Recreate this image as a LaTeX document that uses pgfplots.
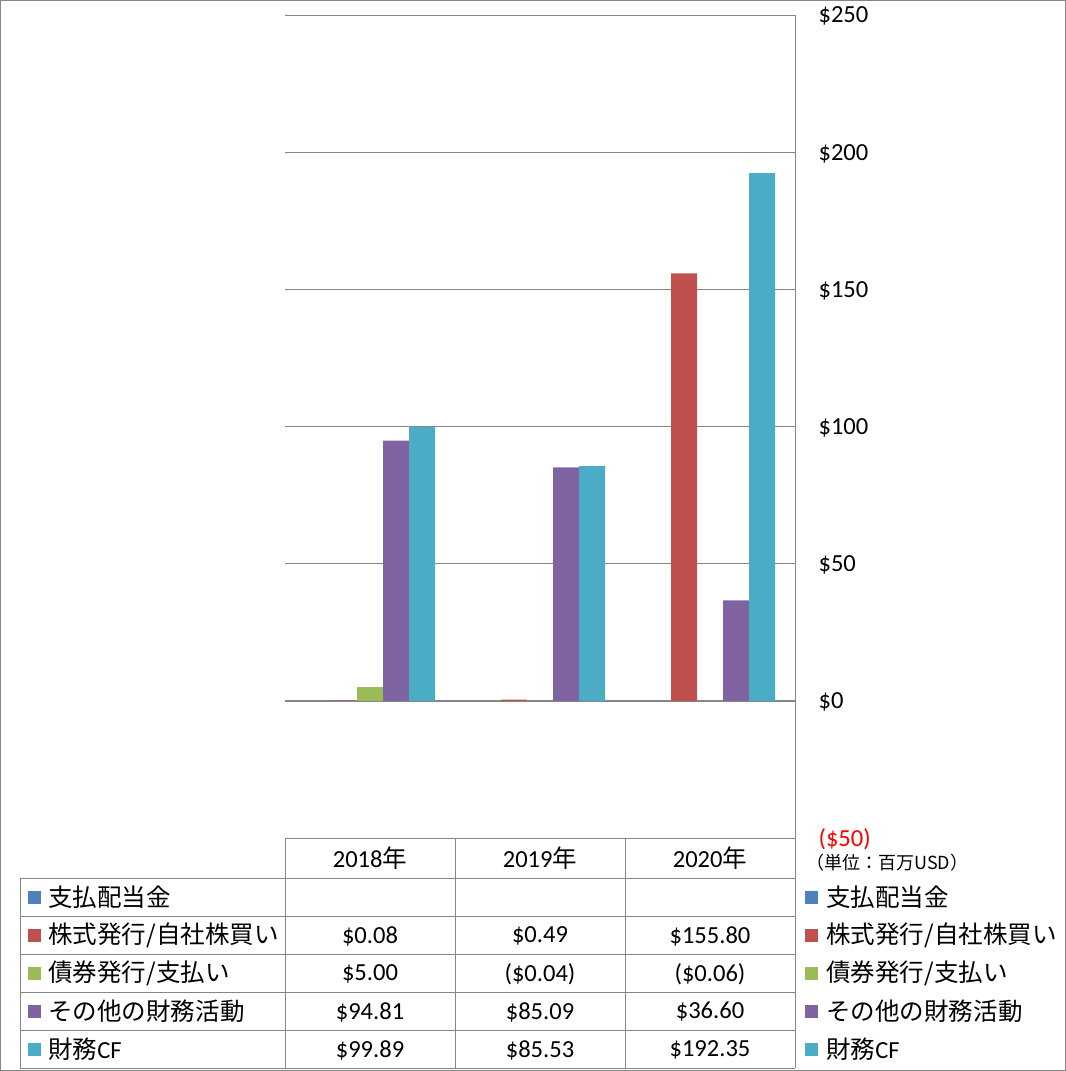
\documentclass[border=0pt]{standalone}
\usepackage{pgfplots}
\pgfplotsset{compat=1.18}
\usepackage{fontspec}
\setmainfont{Carlito}
\newfontfamily\cjk{Noto Sans CJK JP}
\definecolor{cblue}{HTML}{4F81BD}
\definecolor{cred}{HTML}{C0504D}
\definecolor{cgreen}{HTML}{9BBB59}
\definecolor{cpurple}{HTML}{8064A2}
\definecolor{cteal}{HTML}{4BACC6}
\definecolor{linec}{HTML}{868686}
\begin{document}
\begin{tikzpicture}
\begin{axis}[
  at={(213.75pt,-628.5pt)}, anchor=south west,
  scale only axis, width=382.5pt, height=617.25pt,
  xmin=-0.5, xmax=2.5, ymin=-50, ymax=250,
  axis x line=none, axis y line*=right,
  y axis line style={draw=linec, line width=0.75pt, -},
  xtick=\empty,
  ytick={-50,0,50,100,150,200,250},
  yticklabels={\textcolor{red}{(\$50)},\$0,\$50,\$100,\$150,\$200,\$250},
  major tick length=0pt,
  yticklabel style={anchor=west, inner sep=0pt, xshift=17.5pt, yshift=-1pt,
    font=\fontsize{18.4}{22}\selectfont},
  ymajorgrids, grid style={draw=linec, line width=0.75pt},
  extra y ticks={0}, extra y tick labels={},
  extra y tick style={grid style={draw=linec, line width=1.3pt}},
]
\addplot[ybar, bar width=19.5pt, bar shift=-19.5pt, fill=cred, draw=none]
  coordinates {(0,0.08) (1,0.49) (2,155.80)};
\addplot[ybar, bar width=19.5pt, bar shift=0pt, fill=cgreen, draw=none]
  coordinates {(0,5.00) (1,-0.04) (2,-0.06)};
\addplot[ybar, bar width=19.5pt, bar shift=19.5pt, fill=cpurple, draw=none]
  coordinates {(0,94.81) (1,85.09) (2,36.60)};
\addplot[ybar, bar width=19.5pt, bar shift=39pt, fill=cteal, draw=none]
  coordinates {(0,99.89) (1,85.53) (2,192.35)};
\end{axis}

% data table, legend and frame in pixel units
\begin{scope}[x=0.75pt, y=-0.75pt, every node/.style={font=\fontsize{18.4}{22}\selectfont, inner sep=0pt}]
  \draw[linec, line width=0.75pt] (0.5,0.5) rectangle (1065.5,1070.5);
  \draw[linec, line width=0.75pt] (285,838) -- (795,838);
  \foreach \yy in {878,916,954,992,1030,1068}
    \draw[linec, line width=0.75pt] (20,\yy) -- (795,\yy);
  \draw[linec, line width=0.75pt] (20,878) -- (20,1068);
  \foreach \xx in {285,455,625,795}
    \draw[linec, line width=0.75pt] (\xx,838) -- (\xx,1068);

  \node at (370,858) {2018{\cjk 年}};
  \node at (540,858) {2019{\cjk 年}};
  \node at (710,858) {2020{\cjk 年}};

  \node[anchor=west, font=\fontsize{13.5}{16}\selectfont\cjk\mdseries] at (806,863) {（単位：百万USD）};

  \foreach \yy/\cc/\tt in {897/cblue/{{\cjk 支払配当金}},
      935/cred/{{\cjk 株式発行/自社株買い}},
      973/cgreen/{{\cjk 債券発行/支払い}},
      1011/cpurple/{{\cjk その他の財務活動}},
      1049/cteal/{{\cjk 財務}CF}} {
    \fill[\cc] (28,\yy-6.5) rectangle (41,\yy+6.5);
    \node[anchor=west] at (48,\yy) {\tt};
    \fill[\cc] (805,\yy-6.5) rectangle (818,\yy+6.5);
    \node[anchor=west] at (826,\yy) {\tt};
  }

  \foreach \yy/\a/\b/\c in {936/\$0.08/\$0.49/\$155.80,
      974/\$5.00/(\$0.04)/(\$0.06),
      1012/\$94.81/\$85.09/\$36.60,
      1050/\$99.89/\$85.53/\$192.35} {
    \node at (370,\yy) {\a};
    \node at (540,\yy) {\b};
    \node at (710,\yy) {\c};
  }
\end{scope}
\end{tikzpicture}
\end{document}
